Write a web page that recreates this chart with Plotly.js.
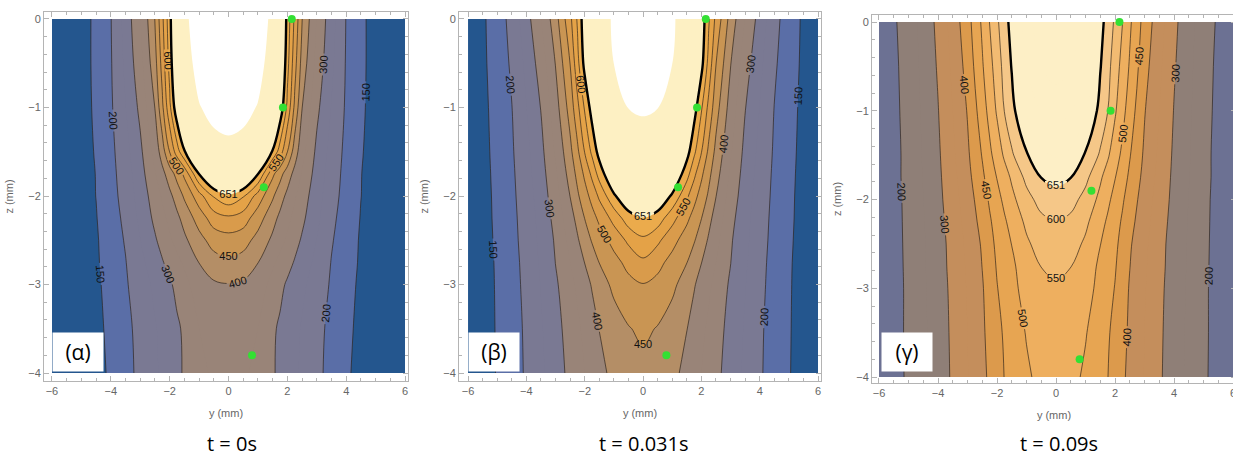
<!DOCTYPE html>
<html><head><meta charset="utf-8">
<script src="https://cdn.plot.ly/plotly-3.0.1.min.js"></script>
<style>html,body{margin:0;padding:0;overflow:hidden;background:#fff;}#chart{width:1250px;height:458px;}</style>
</head><body><div id="chart"></div>
<script>
// ---- data ----
const yCols = [-6,-5,-4.5,-4,-3.5,-3,-2.5,-2.25,-2,-1.75,-1.5,-1,-0.5,0,0.5,1,1.5,1.75,2,2.25,2.5,3,3.5,4,4.5,5,6];
const zRows = [0,-0.5,-1,-1.5,-1.75,-2,-2.25,-2.5,-2.75,-3,-3.5,-4];

// temperature field, t = 0 s
const tempA = [
[100,137,157,198,269,347,451,539,631,758,893,1250,1440,1500,1440,1250,893,758,631,539,451,347,269,198,157,137,100],
[100,137,157,196,260,333,431,519,617,736,860,1110,1270,1320,1270,1110,860,736,617,519,431,333,260,196,157,137,100],
[100,136,156,193,248,312,401,489,587,690,788,984,1085,1120,1085,984,788,690,587,489,401,312,248,193,156,136,100],
[100,135,153,187,233,289,367,425,501,575,645,800,900,930,900,800,645,575,501,425,367,289,233,187,153,135,100],
[100,134,151,184,226,279,346,385,425,467,511,653,750,780,750,653,511,467,425,385,346,279,226,184,151,134,100],
[100,133,150.5,181,220,270,325,356,388,421,457,529,605,640,605,529,457,421,388,356,325,270,220,181,150.5,133,100],
[100,132,148,176,212,261,311,337,363,389,417,472,525,540,525,472,417,389,363,337,311,261,212,176,148,132,100],
[100,131,145,174,204,249,294,317,342,366,390,433,470,480,470,433,390,366,342,317,294,249,204,174,145,131,100],
[100,130,144,170,198,237,276,296,317,337,358,401,430,440,430,401,358,337,317,296,276,237,198,170,144,130,100],
[100,129,141,167,194,227,260,277,293,313,335,375,393,398,393,375,335,313,293,277,260,227,194,167,141,129,100],
[100,128,138,161,187,215,246,261,277,292,308,350,368,375,368,350,308,292,277,261,246,215,187,161,138,128,100],
[100,127,133,158,184,212,243,259,274,290,305,340,356,362,356,340,305,290,274,259,243,212,184,158,133,127,100]
];
// temperature field, t = 0.031 s
const tempB = [
[110,175,216,280,349,430,537,606,685,771,856,1040,1270,1350,1270,1040,856,771,685,606,537,430,349,280,216,175,110],
[110,172,207,262,323,402,501,583,668,751,834,1002,1120,1180,1120,1002,834,751,668,583,501,402,323,262,207,172,110],
[108,168,199,249,302,379,470,536,606,674,732,849,1005,1030,1005,849,732,674,606,536,470,379,302,249,199,168,108],
[106,165,194,238,286,356,437,489,552,611,672,790,855,880,855,790,672,611,552,489,437,356,286,238,194,165,106],
[105,163,191,233,279,342,420,463,510,562,620,712,775,800,775,712,620,562,510,463,420,342,279,233,191,163,105],
[105,161,189,227,273,329,401,442,479,517,559,643,700,720,700,643,559,517,479,442,401,329,273,227,189,161,105],
[104,160,187,222,266,316,381,414,451,481,511,567,628,648,628,567,511,481,451,414,381,316,266,222,187,160,104],
[104,158,185,219,262,306,365,394,425,454,475,517,560,590,560,517,475,454,425,394,365,306,262,219,185,158,104],
[103,156,183,215,257,301,350,375,401,425,451,483,515,540,515,483,451,425,401,375,350,301,257,215,183,156,103],
[103,155,182,212,252,292,336,359,382,404,425,462,486,498,486,462,425,404,382,359,336,292,252,212,182,155,103],
[102,154,179,208,245,283,321,341,361,380,401,425,447,460,447,425,401,380,361,341,321,283,245,208,179,154,102],
[102,153,178,206,241,277,313,331,350,369,387,412,428,435,428,412,387,369,350,331,313,277,241,206,178,153,102]
];
// temperature field, t = 0.09 s
const tempC = [
[160,226,267,312,371,431,508,551,592,629,670,780,830,850,830,780,670,629,592,551,508,431,371,312,267,226,160],
[158,221,262,305,360,418,495,533,575,616,654,752,800,820,800,752,654,616,575,533,495,418,360,305,262,221,158],
[157,218,258,298,350,403,476,516,556,601,635,705,752,770,752,705,635,601,556,516,476,403,350,298,258,218,157],
[156,215,254,292,341,392,453,489,523,557,593,646,690,705,690,646,593,557,523,489,453,392,341,292,254,215,156],
[156,215,252,289,335,385,441,471,502,529,557,613,652,665,652,613,557,529,502,471,441,385,335,289,252,215,156],
[155,213,249,286,329,376,428,456,483,511,537,583,618,630,618,583,537,511,483,456,428,376,329,286,249,213,155],
[155,212,247,282,323,368,417,444,469,493,517,560,588,598,588,560,517,493,469,444,417,368,323,282,247,212,155],
[155,211,245,279,317,361,406,435,460,480,501,542,570,578,570,542,501,480,460,435,406,361,317,279,245,211,155],
[155,210,244,278,315,357,401,428,454,473,492,522,551,558,551,522,492,473,454,428,401,357,315,278,244,210,155],
[155,209,243,276,312,354,396,421,448,467,486,518,538,545,538,518,486,467,448,421,396,354,312,276,243,209,155],
[155,209,241,274,309,350,392,414,436,456,472,503,522,530,522,503,472,456,436,414,392,350,309,274,241,209,155],
[155,208,241,273,307,348,388,408,429,451,464,492,514,522,514,492,464,451,429,408,388,348,307,273,241,208,155]
];
// thermocouple points (green dots)
const dotY = [2.15, 1.85, 1.2, 0.8];
const dotZ = [0, -1, -1.9, -3.8];
const panelTags = ['(α)', '(β)', '(γ)'];
const timeLabels = ['t = 0s', 't = 0.031s', 't = 0.09s'];

// ---- styles ----
const LY = '#fdf0c3';
const bandsAB = ['#24568e','#5a6ea7','#7a7993','#7a7993','#998478','#998478','#b48e66','#c99553','#d99b4b','#e4a247','#ebab4c',LY,LY,LY,LY,LY,LY,LY,'#ffffff'];
const LC = '#fdefc6';
const bandsC = ['#6c7193','#6c7193','#8f7f77','#8f7f77','#c48e5c','#c48e5c','#dc9a4c','#e7a552','#eeaf5f','#f2bb72','#f5c788',LC,LC,LC,LC,LC,LC,LC,LC];

function stepScale(colors){
  const K = colors.length - 1, cs = [];
  colors.forEach((c,k)=>{
    cs.push([Math.max(0,(k-0.45)/K), c]);
    cs.push([Math.min(1,(k+0.45)/K), c]);
  });
  cs[0][0] = 0; cs[cs.length-1][0] = 1;
  return cs;
}
const SM = 1;
const labFont = {family:'Liberation Sans, Arial, sans-serif', size:11, color:'#111'};
function fillTrace(z, colors, xa, ya){
  return {type:'contour', x:yCols, y:zRows, z:z, xaxis:xa, yaxis:ya, autocontour:false,
    contours:{start:150, end:1000, size:50, coloring:'fill', showlines:false},
    colorscale:stepScale(colors), showscale:false, line:{smoothing:SM, width:0}, hoverinfo:'skip'};
}
function lineTrace(z, start, end, size, width, color, xa, ya){
  return {type:'contour', x:yCols, y:zRows, z:z, xaxis:xa, yaxis:ya, autocontour:false,
    contours:{start:start, end:end, size:size, coloring:'none', showlabels:true, labelfont:labFont},
    line:{color:color, width:width, smoothing:SM}, showscale:false, hoverinfo:'skip'};
}
const thin = 'rgba(45,35,25,0.75)';
const fields = [tempA, tempB, tempC];
const bandSets = [bandsAB, bandsAB, bandsC];
const traces = [];
fields.forEach((z,i)=>{
  const xa = i===0 ? 'x' : 'x'+(i+1), ya = i===0 ? 'y' : 'y'+(i+1);
  traces.push(fillTrace(z, bandSets[i], xa, ya));
  traces.push(lineTrace(z,150,200,50,0.9,thin,xa,ya));
  traces.push(lineTrace(z,300,400,100,0.9,thin,xa,ya));
  traces.push(lineTrace(z,450,600,50,0.9,thin,xa,ya));
  traces.push(lineTrace(z,651,651,1,2.4,'#000',xa,ya));
  traces.push({type:'scatter', mode:'markers', x:dotY, y:dotZ, xaxis:xa, yaxis:ya,
    marker:{size:8, color:'#33e033'}, cliponaxis:false, hoverinfo:'skip'});
});

const W = 1250, H = 458;
const gray = '#b4b4b4';
const tickFont = {family:'Liberation Sans, Arial, sans-serif', size:11, color:'#666'};
function xAx(px0, px1, r, ya){
  return {domain:[px0/W, px1/W], range:r, anchor:ya, showline:true, linecolor:gray, linewidth:1,
    mirror:'allticks', ticks:'inside', ticklen:5, tickcolor:gray, tick0:0, dtick:2,
    minor:{dtick:0.5, ticks:'inside', ticklen:3, tickcolor:gray},
    showgrid:false, zeroline:false, tickfont:tickFont,
    title:{text:'y (mm)', font:tickFont, standoff:13}};
}
function yAx(top, bot, r, xa){
  return {domain:[(H-bot)/H, (H-top)/H], range:r, anchor:xa, showline:true, linecolor:gray, linewidth:1,
    mirror:'allticks', ticks:'inside', ticklen:5, tickcolor:gray, tick0:0, dtick:1,
    minor:{dtick:0.2, ticks:'inside', ticklen:3, tickcolor:gray},
    showgrid:false, zeroline:false, tickfont:tickFont,
    title:{text:'z (mm)', font:tickFont, standoff:12}};
}
const annFont = {family:'Open Sans, sans-serif', size:20, color:'#000'};
const tagFont = {family:'Open Sans, sans-serif', size:21, color:'#000'};
const tagX = [78, 493.5, 906.5], timeX = [232, 643, 1059];
const annotations = [];
for (let i=0;i<3;i++){
  annotations.push({xref:'paper', yref:'paper', x:tagX[i]/W, y:(H-352)/H, xanchor:'center', yanchor:'middle',
    text:panelTags[i], showarrow:false, bgcolor:'#ffffff', width:48, height:36, borderpad:1, font:tagFont});
  annotations.push({xref:'paper', yref:'paper', x:timeX[i]/W, y:(H-443)/H, xanchor:'center', yanchor:'middle',
    text:timeLabels[i], showarrow:false, font:annFont});
}
const layout = {
  width:W, height:H, margin:{l:0,r:0,t:0,b:0}, paper_bgcolor:'#fff', plot_bgcolor:'#fff', showlegend:false,
  xaxis: xAx(44, 408, [-6.27, 6.10], 'y'),
  yaxis: yAx(12, 381, [-4.09, 0.079], 'x'),
  xaxis2: xAx(459, 821, [-6.31, 6.10], 'y2'),
  yaxis2: yAx(12, 381, [-4.09, 0.079], 'x2'),
  xaxis3: xAx(872, 1236, [-6.237, 6.10], 'y3'),
  yaxis3: yAx(15, 383, [-4.067, 0.079], 'x3'),
  annotations: annotations
};
Plotly.newPlot('chart', traces, layout, {staticPlot:true, displayModeBar:false});
</script></body></html>
